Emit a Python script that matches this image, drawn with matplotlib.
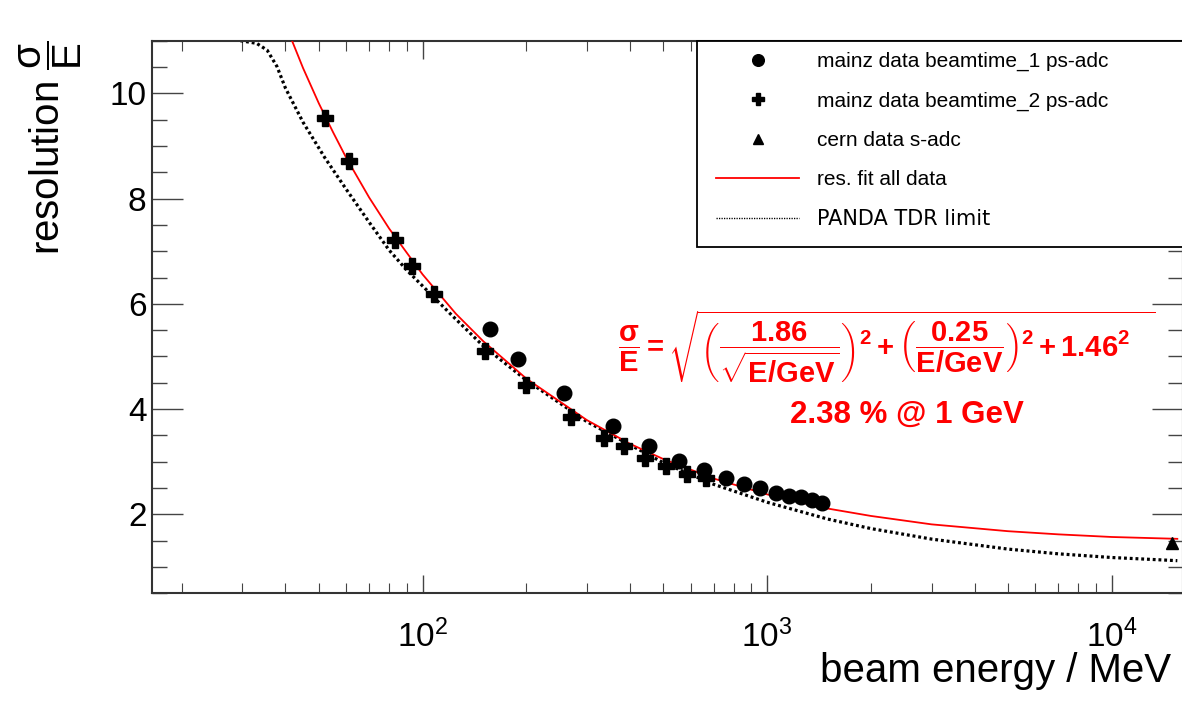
import matplotlib
matplotlib.use("Agg")
import matplotlib.pyplot as plt
from matplotlib.ticker import MultipleLocator, LogLocator, NullFormatter
from matplotlib.patches import Rectangle

# ---------------- data ----------------
beamtime1_energy = [157, 188.6, 256.5, 356, 454.7, 555.5, 656, 759, 854, 954,
                    1060, 1159, 1253, 1353, 1444]
beamtime1_res = [5.53, 4.95, 4.30, 3.67, 3.29, 3.02, 2.84, 2.70, 2.57, 2.50,
                 2.40, 2.355, 2.325, 2.27, 2.21]

beamtime2_energy = [52.2, 61.3, 83.3, 93.5, 107.6, 152, 200, 269.5, 336.6, 385,
                    443, 509, 585, 666]
beamtime2_res = [9.54, 8.72, 7.21, 6.71, 6.19, 5.11, 4.46, 3.845, 3.445, 3.29,
                 3.08, 2.92, 2.77, 2.69]

cern_energy = [15000]
cern_res = [1.46]

fit_energy = [41.8, 45, 50, 55, 60, 70, 80, 100, 125, 150, 200, 300, 400, 500,
              700, 1000, 1500, 2000, 3000, 5000, 7000, 10000, 15500]
fit_res = [11.0, 10.48, 9.81, 9.26, 8.78, 8.02, 7.43, 6.56, 5.81, 5.29, 4.58,
           3.79, 3.34, 3.05, 2.68, 2.38, 2.11, 1.97, 1.81, 1.68, 1.62, 1.57, 1.535]

panda_energy = [29.6, 33, 35.4, 37.8, 40, 45, 52, 60, 70, 80, 90, 100, 120, 150,
                200, 300, 500, 700, 1000, 1500, 2000, 3000, 5000, 7000, 10000, 15500]
panda_res = [11.0, 10.95, 10.82, 10.51, 10.1, 9.45, 8.78, 8.18, 7.55, 7.02,
             6.64, 6.34, 5.82, 5.2, 4.55, 3.76, 2.98, 2.57, 2.23, 1.91, 1.73,
             1.53, 1.34, 1.25, 1.18, 1.12]

legend_labels = ["mainz data beamtime_1 ps-adc", "mainz data beamtime_2 ps-adc",
                 "cern data s-adc", "res. fit all data", "PANDA TDR limit"]

# ---------------- styling ----------------
plt.rcParams["font.family"] = ["Liberation Sans", "DejaVu Sans"]
plt.rcParams["mathtext.fontset"] = "custom"
plt.rcParams["mathtext.rm"] = "Liberation Sans"
plt.rcParams["mathtext.sf"] = "Liberation Sans"
plt.rcParams["mathtext.it"] = "Liberation Sans:italic"
plt.rcParams["mathtext.bf"] = "Liberation Sans:bold"

W, H = 1182, 701
fig = plt.figure(figsize=(W / 100, H / 100), dpi=100)
ax_l, ax_r, ax_t, ax_b = 152, 1183, 40.7, 593.3
ax = fig.add_axes([ax_l / W, (H - ax_b) / H, (ax_r - ax_l) / W, (ax_b - ax_t) / H])

def px2ax(x, y):
    return (x - ax_l) / (ax_r - ax_l), (ax_b - y) / (ax_b - ax_t)

l_fit, = ax.plot(fit_energy, fit_res, color="#ff0000", lw=1.3, zorder=3,
                 label=legend_labels[3])
l_panda, = ax.plot(panda_energy, panda_res, color="black", lw=2.3,
                   linestyle=(0, (0.9, 0.9)), zorder=2, label=legend_labels[4])
m1, = ax.plot(beamtime1_energy, beamtime1_res, "o", color="black", ms=10.5,
              zorder=4, label=legend_labels[0])
m2, = ax.plot(beamtime2_energy, beamtime2_res, "P", color="black", ms=11,
              zorder=4, label=legend_labels[1])
m3, = ax.plot(cern_energy, cern_res, "^", color="black", ms=9, zorder=4,
              label=legend_labels[2])

ax.set_xscale("log")
ax.set_xlim(16.4, 16100)
ax.set_ylim(0.5, 11)
ax.yaxis.set_major_locator(MultipleLocator(2))
ax.yaxis.set_minor_locator(MultipleLocator(0.5))
ax.xaxis.set_major_locator(LogLocator(base=10))
ax.xaxis.set_minor_locator(LogLocator(base=10, subs=range(2, 10)))
ax.xaxis.set_minor_formatter(NullFormatter())

for s in ax.spines.values():
    s.set_linewidth(1.5)
    s.set_color("#333333")

ax.tick_params(axis="both", which="both", direction="in", top=True, right=True,
               colors="#444444", labelcolor="black")
ax.tick_params(axis="y", which="major", length=22, width=1.0, labelsize=24, pad=4)
ax.tick_params(axis="y", which="minor", length=11, width=1.0)
ax.tick_params(axis="x", which="major", length=13, width=1.0, labelsize=24, pad=19)
ax.tick_params(axis="x", which="minor", length=7, width=0.8)

ax.set_xlabel("beam energy / MeV", fontsize=29, ha="right", va="top")
ax.xaxis.set_label_coords(*px2ax(1171, 652))
ax.set_ylabel(r"resolution $\dfrac{\mathsf{\sigma}}{\mathsf{E}}$", fontsize=29,
              ha="right")
ax.yaxis.set_label_coords(px2ax(84, 0)[0], 1.0)

# legend box
bx0, by0 = px2ax(697, 247)
rect = Rectangle((bx0, by0), 1.02 - bx0, 1.0 - by0, transform=ax.transAxes,
                 facecolor="white", edgecolor="black", lw=1.3, clip_on=False,
                 zorder=5)
ax.add_patch(rect)
lx, ly = px2ax(716, 52)
leg = ax.legend(handles=[m1, m2, m3, l_fit, l_panda], labels=legend_labels,
                loc="upper left", bbox_to_anchor=(lx, ly), frameon=False,
                borderpad=0, borderaxespad=0, fontsize=15, handlelength=4.0,
                handletextpad=0.86, labelspacing=0.97, markerscale=0.8)
leg.set_zorder(6)
leg.legend_handles[4].set_linewidth(1.0)
leg.get_texts()[4].set_fontfamily("DejaVu Sans")

# fit formula
formula = (r"$\mathbf{\dfrac{\sigma}{E} = \sqrt{\left(\dfrac{1.86}{\sqrt{E/GeV}}\right)^{2}"
           r" + \left(\dfrac{0.25}{E/GeV}\right)^{2} + 1.46^{2}\;\;\;}}$")
ax.text(*px2ax(618, 347), formula, transform=ax.transAxes, color="#ff0000",
        fontsize=21, ha="left", va="center", zorder=6)
ax.text(*px2ax(907, 415), "2.38 % @ 1 GeV", transform=ax.transAxes,
        color="#ff0000", fontsize=22.5, fontweight="bold", ha="center",
        va="center", zorder=6)

fig.savefig("out.png", dpi=100)
